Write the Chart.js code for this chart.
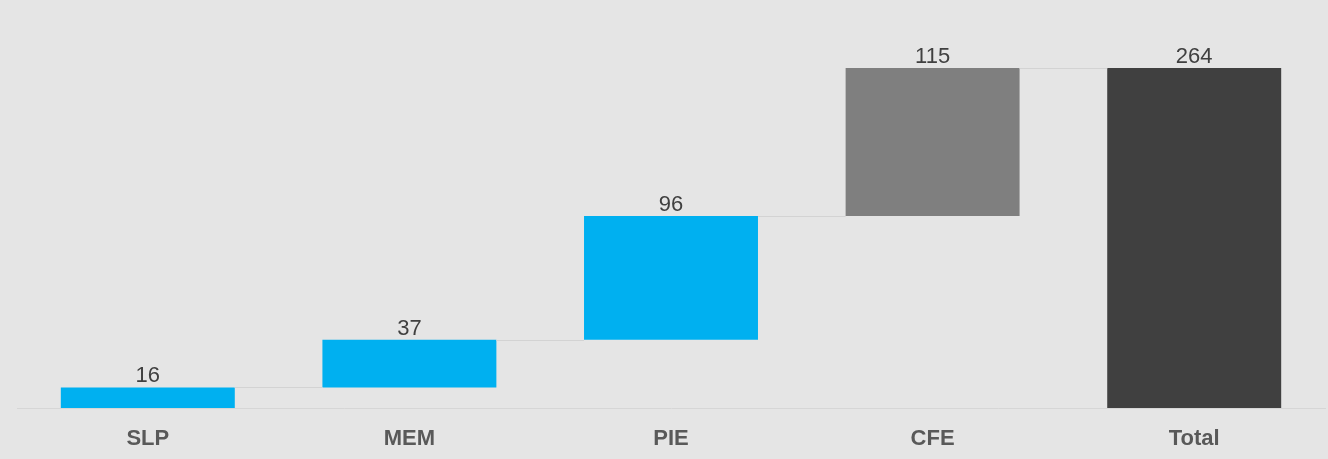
<!DOCTYPE html>
<html lang="en">
<head>
  <meta charset="UTF-8">
  <title>Waterfall</title>
  <script src="https://cdn.jsdelivr.net/npm/chart.js"></script>
  <style>
    html, body { margin: 0; padding: 0; background: #e5e5e5; }
    #wrap { width: 1328px; height: 459px; }
  </style>
</head>
<body>
  <div id="wrap"><canvas id="myChart"></canvas></div>

  <script>
    const categories = ["SLP", "MEM", "PIE", "CFE", "Total"];
    const values = [16, 37, 96, 115, 264];
    const isTotal = [false, false, false, false, true];
    const barColors = ["#00b0f0", "#00b0f0", "#00b0f0", "#7f7f7f", "#404040"];

    // floating ranges for the waterfall
    const ranges = [];
    let running = 0;
    values.forEach((v, i) => {
      if (isTotal[i]) {
        ranges.push([0, v]);
      } else {
        ranges.push([running, running + v]);
        running += v;
      }
    });

    // value labels and connector lines
    const waterfallExtras = {
      id: "waterfallExtras",
      afterDatasetsDraw(chart) {
        const ctx = chart.ctx;
        const meta = chart.getDatasetMeta(0);
        const y = chart.scales.y;
        ctx.save();
        ctx.strokeStyle = "#d3d3d3";
        ctx.lineWidth = 1;
        for (let i = 0; i < meta.data.length - 1; i++) {
          const a = meta.data[i];
          const b = meta.data[i + 1];
          const py = Math.round(y.getPixelForValue(ranges[i][1])) + 0.5;
          ctx.beginPath();
          ctx.moveTo(a.x + a.width / 2, py);
          ctx.lineTo(b.x - b.width / 2, py);
          ctx.stroke();
        }
        ctx.fillStyle = "#404040";
        ctx.font = "22px 'Liberation Sans', Arial, sans-serif";
        ctx.textAlign = "center";
        ctx.textBaseline = "alphabetic";
        meta.data.forEach((bar, i) => {
          const top = y.getPixelForValue(ranges[i][1]);
          ctx.fillText(values[i], bar.x, top - 5);
        });
        ctx.restore();
      }
    };

    new Chart(document.getElementById("myChart"), {
      type: "bar",
      data: {
        labels: categories,
        datasets: [{
          data: ranges,
          backgroundColor: barColors,
          borderWidth: 0,
          barPercentage: 0.665,
          categoryPercentage: 1
        }]
      },
      options: {
        responsive: true,
        maintainAspectRatio: false,
        animation: false,
        layout: { padding: { top: 68, left: 17, right: 3, bottom: 7 } },
        plugins: {
          legend: { display: false },
          tooltip: { enabled: false }
        },
        scales: {
          x: {
            grid: { display: false, drawTicks: false },
            border: { display: true, color: "#d6d6d6", width: 1 },
            afterFit(scale) { scale.height = 44; },
            ticks: {
              padding: 18,
              color: "#595959",
              font: { family: "'Liberation Sans', Arial, sans-serif", size: 22, weight: "bold" }
            }
          },
          y: {
            display: false,
            min: 0,
            max: 264
          }
        }
      },
      plugins: [waterfallExtras]
    });
  </script>
</body>
</html>
